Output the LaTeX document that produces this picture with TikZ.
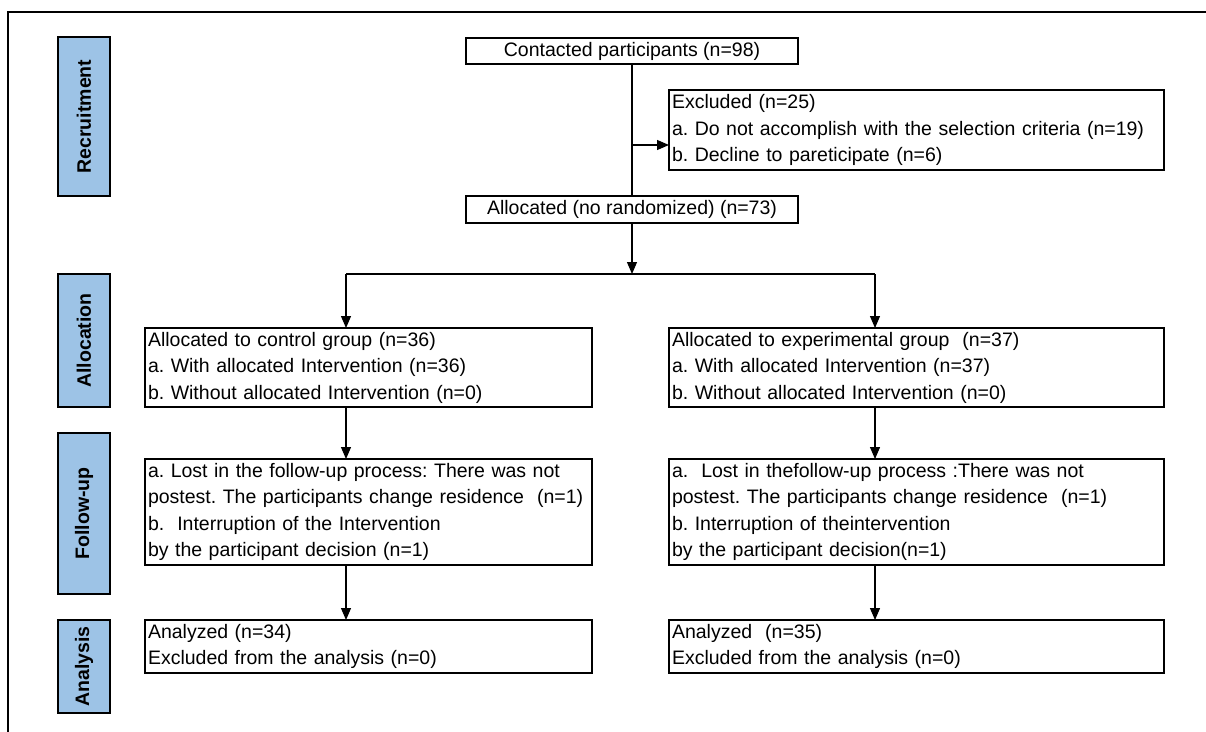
\documentclass[tikz,border=0pt]{standalone}
\usepackage{fontspec}
\setmainfont{Liberation Sans}
\usetikzlibrary{arrows.meta}
\definecolor{labelblue}{RGB}{157,195,230}
\frenchspacing
\begin{document}
\begin{tikzpicture}[x=1pt,y=-1pt,
  txt/.style={font=\fontsize{19.5}{26.5}\selectfont\frenchspacing},
  box/.style={draw, line width=2pt, txt, inner xsep=3pt, inner ysep=0pt, outer sep=0pt, align=left},
  cbox/.style={draw, line width=2pt, txt, inner sep=0pt, outer sep=0pt, align=center},
  stage/.style={draw, line width=2pt, fill=labelblue, rotate=90, font=\fontsize{19.5}{22}\selectfont\bfseries, inner sep=0pt, outer sep=0pt, minimum height=52pt},
  conn/.style={line width=1.2pt},
  arr/.style={conn, -{Triangle[length=12pt,width=10pt]}}
]
\useasboundingbox (0,0) rectangle (1206,731);
% outer frame (only left and top sides visible)
\draw[line width=2pt] (8,740) -- (8,12) -- (1215,12);

% stage labels
\node[stage, minimum width=159pt] (recr) at (84,116.5) {Recruitment};
\node[stage, minimum width=133pt] (allo) at (84,340.5) {Allocation};
\node[stage, minimum width=161pt] (foll) at (84,513.5) {Follow-up};
\node[stage, minimum width=93pt]  (anal) at (84,666.5) {Analysis};

% boxes
\node[cbox, minimum width=332pt, minimum height=26pt] (cont) at (632,51) {Contacted participants (n=98)};
\node[box, text width=489pt, minimum height=80pt] (excl) at (916.5,130)
  {Excluded (n=25)\\a. Do not accomplish with the selection criteria (n=19)\\b. Decline to pareticipate (n=6)};
\node[cbox, minimum width=332pt, minimum height=27pt] (alloc) at (632,209.5) {Allocated (no randomized) (n=73)};

\node[box, text width=441pt, minimum height=79pt] (ctrl) at (368.5,367.5)
  {Allocated to control group (n=36)\\a. With allocated Intervention (n=36)\\b. Without allocated Intervention (n=0)};
\node[box, text width=489pt, minimum height=79pt] (expt) at (916.5,367.5)
  {Allocated to experimental group\ \ (n=37)\\a. With allocated Intervention (n=37)\\b. Without allocated Intervention (n=0)};

\node[box, text width=441pt, minimum height=106pt] (fuL) at (368.5,512)
  {a. Lost in the follow-up process: There was not\\postest. The participants change residence\ \ (n=1)\\b.\ \ Interruption of the Intervention\\by the participant decision (n=1)};
\node[box, text width=489pt, minimum height=106pt] (fuR) at (916.5,512)
  {a.\ \ Lost in thefollow-up process :There was not\\postest. The participants change residence\ \ (n=1)\\b. Interruption of theintervention\\by the participant decision(n=1)};

\node[box, text width=441pt, minimum height=53pt] (anL) at (368.5,646.5)
  {Analyzed (n=34)\\Excluded from the analysis (n=0)};
\node[box, text width=489pt, minimum height=53pt] (anR) at (916.5,646.5)
  {Analyzed\ \ (n=35)\\Excluded from the analysis (n=0)};

% connectors
\draw[conn] (cont.south) -- (alloc.north);
\coordinate (br) at (632,145);
\draw[arr] (br) -- (br -| excl.west);

\coordinate (hl) at (346,274);
\coordinate (hr) at (875,274);
\draw[arr] (alloc.south) -- (alloc.south |- hl);
\draw[conn] (hl) -- (hr);
\draw[arr] (hl) -- (hl |- ctrl.north);
\draw[arr] (hr) -- (hr |- expt.north);

\draw[arr] (ctrl.south -| hl) -- (fuL.north -| hl);
\draw[arr] (expt.south -| hr) -- (fuR.north -| hr);
\draw[arr] (fuL.south -| hl) -- (anL.north -| hl);
\draw[arr] (fuR.south -| hr) -- (anR.north -| hr);
\end{tikzpicture}
\end{document}
